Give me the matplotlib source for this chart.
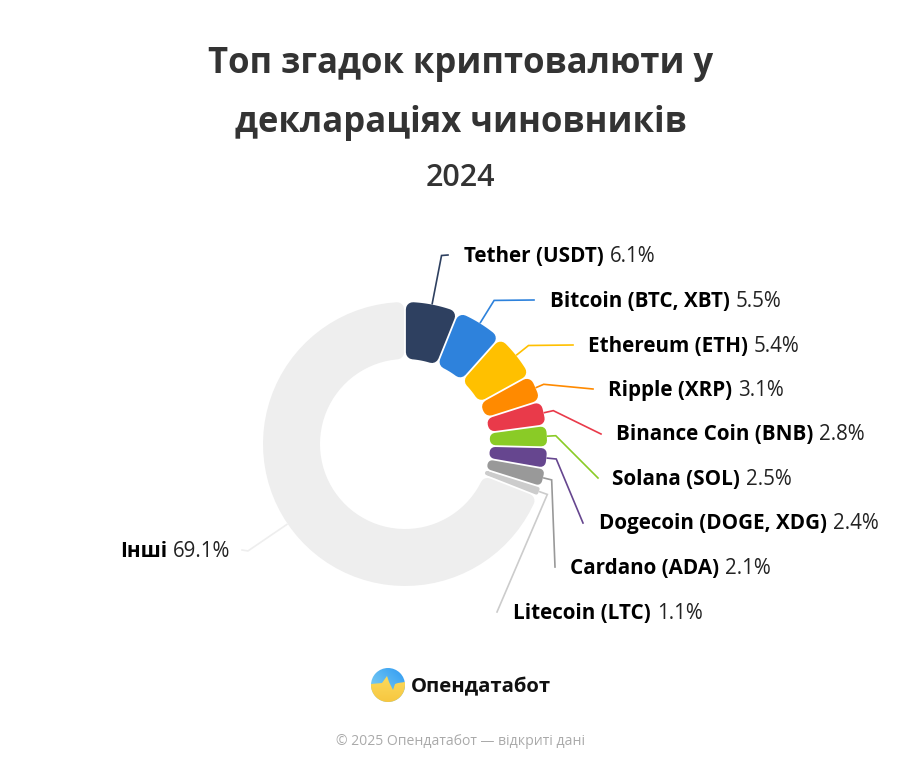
import matplotlib
matplotlib.use('Agg')
import matplotlib.pyplot as plt
from matplotlib.patches import Circle, Polygon
import numpy as np

_FONT = 'Open Sans'
_CENTER = (405, 324)
_OUTER = 142
_INNER = 85
_GAP = 1.8
_CORNER = 7

names = ['Tether (USDT)', 'Bitcoin (BTC, XBT)', 'Ethereum (ETH)', 'Ripple (XRP)',
         'Binance Coin (BNB)', 'Solana (SOL)', 'Dogecoin (DOGE, XDG)', 'Cardano (ADA)',
         'Litecoin (LTC)', 'Інші']
shares = [6.1, 5.5, 5.4, 3.1, 2.8, 2.5, 2.4, 2.1, 1.1, 69.1]
colors = ['#2e4060', '#2e82dc', '#ffc000', '#ff8a00', '#e93a4a', '#8acb26', '#66468f',
          '#999999', '#cccccc', '#eeeeee']

# label layout, in pixels from the top left of the image
label_x = [464, 550, 588, 608, 616, 612, 599, 570, 513, 120]
label_y = [255, 300, 345, 389, 433, 478, 522, 567, 612, 550]
leader_end = [(448, 255), (534, 300), (573, 345), (593, 389), (601, 434),
              (598, 478), (583, 523), (555, 567), (497, 612), (242, 550)]
elbow_radius = [192, 169, 158, 151, 152, 151, 152, 151, 151, 190]

fig = plt.figure(figsize=(9.21, 7.68), dpi=100)
ax = fig.add_axes([0, 0, 1, 1])
ax.set_xlim(0, 921)
ax.set_ylim(0, 768)
ax.axis('off')


def ring_point(angle, radius):
    # angle in radians, clockwise from 12 o'clock
    return _CENTER[0] + radius * np.sin(angle), _CENTER[1] + radius * np.cos(angle)


def draw_slice(start, end, color):
    # the round edge of the stroke makes the rounded corners of the slice
    corner = min(_CORNER, ((end - start) * _INNER - _GAP) * 0.48)
    inset = corner + _GAP / 2
    r_out = _OUTER - corner
    r_in = _INNER + corner
    pad_out = inset / r_out
    pad_in = min(inset / r_in, (end - start) / 2 - 0.001)
    outer = np.linspace(start + pad_out, end - pad_out, 60)
    inner = np.linspace(end - pad_in, start + pad_in, 60)
    points = [ring_point(a, r_out) for a in outer] + [ring_point(a, r_in) for a in inner]
    ax.add_patch(Polygon(points, closed=True, facecolor=color, edgecolor=color,
                         linewidth=2 * corner * 0.72, joinstyle='round', zorder=2))


# slices and leader lines
total = sum(shares)
bounds = np.concatenate([[0], np.cumsum(shares)]) / total * 2 * np.pi
for i, color in enumerate(colors):
    draw_slice(bounds[i], bounds[i + 1], color)
    mid = (bounds[i] + bounds[i + 1]) / 2
    x0, y0 = ring_point(mid, _OUTER + 1)
    x1, y1 = ring_point(mid, elbow_radius[i])
    x2, y2 = leader_end[i][0], 768 - leader_end[i][1]
    ax.plot([x0, x1, x2], [y0, y1, y2], color=color, lw=1.2, zorder=1,
            solid_joinstyle='miter')

# labels, bold name then regular share
renderer = fig.canvas.get_renderer()
for name, share, x, y in zip(names, shares, label_x, label_y):
    t = ax.text(x, 768 - y - 7, name, family=_FONT, weight='bold', fontsize=14.9,
                color='black', va='baseline', ha='left')
    box = t.get_window_extent(renderer)
    ax.text(box.x1 + 6, 768 - y - 7, f'{share}%', family=_FONT, fontsize=14.8,
            color='#222222', va='baseline', ha='left')

# titles
ax.text(460.5, 768 - 73, 'Топ згадок криптовалюти у', family=_FONT, weight='bold',
        fontsize=24.9, color='#333333', ha='center', va='baseline')
ax.text(460.5, 768 - 132, 'деклараціях чиновників', family=_FONT, weight='bold',
        fontsize=24.9, color='#333333', ha='center', va='baseline')
ax.text(460.5, 768 - 186, '2024', family=_FONT, weight='semibold', fontsize=22,
        color='#333333', ha='center', va='baseline')

# logo
logo_x, logo_y, logo_r = 388, 768 - 685, 17
grid_x, grid_y = np.meshgrid(np.linspace(0, 1, 64), np.linspace(0, 1, 64))
mix = ((1 - grid_x + grid_y) / 2)[:, :, None]
sky = np.array([0.18, 0.60, 0.95]) * (1 - mix) + np.array([0.55, 0.85, 0.95]) * mix
sand = np.array([0.99, 0.88, 0.40]) * (1 - grid_y[:, :, None]) + np.array([0.97, 0.78, 0.25]) * grid_y[:, :, None]
extent = [logo_x - logo_r, logo_x + logo_r, logo_y - logo_r, logo_y + logo_r]
top = ax.imshow(sky, extent=extent, origin='upper', aspect='auto', zorder=3)
top.set_clip_path(Circle((logo_x, logo_y), logo_r, transform=ax.transData))
pulse = [(-17, 1), (-6, 2), (-1, 9), (1, 3), (5, -5), (7, 1), (10, 2), (17, 3)]
arc = np.linspace(0, -np.pi, 40)
ground = [(logo_x + px, logo_y + py) for px, py in pulse]
ground += [(logo_x + logo_r * np.cos(a), logo_y + logo_r * np.sin(a)) for a in arc]
bottom = ax.imshow(sand, extent=extent, origin='upper', aspect='auto', zorder=4)
bottom.set_clip_path(Polygon(ground, closed=True, transform=ax.transData))
ax.set_xlim(0, 921)
ax.set_ylim(0, 768)
ax.text(411, 768 - 692, 'Опендатабот', family=_FONT, weight='bold', fontsize=14.6,
        color='#111111', ha='left', va='baseline')

# footer
ax.text(461, 768 - 745, '© 2025 Опендатабот — відкриті дані', family=_FONT, fontsize=10.1,
        color='#aaaaaa', ha='center', va='baseline')

fig.savefig('out.png', dpi=100, facecolor='white')
